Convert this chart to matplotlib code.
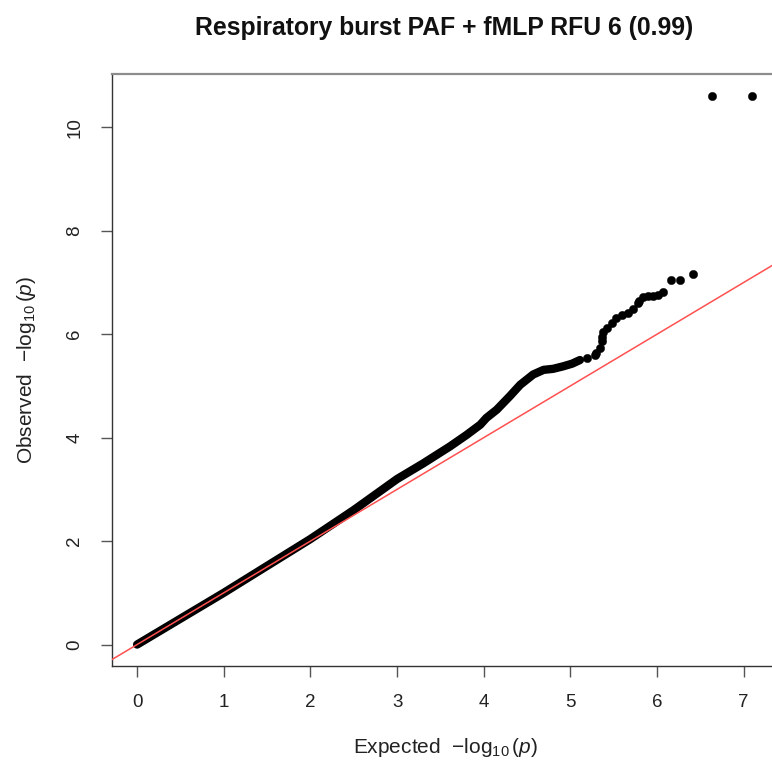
import matplotlib
matplotlib.use("Agg")
import matplotlib.pyplot as plt

plt.rcParams['font.family'] = ['Liberation Sans', 'DejaVu Sans']
plt.rcParams['mathtext.fontset'] = 'custom'
plt.rcParams['mathtext.rm'] = 'Liberation Sans'
plt.rcParams['mathtext.it'] = 'Liberation Sans:italic'

title = "Respiratory burst PAF + fMLP RFU 6 (0.99)"
x_label = r'Expected  $-\log_{10}(p)$'
y_label = r'Observed  $-\log_{10}(p)$'

# dense body of the QQ curve (expected, observed -log10 p)
body_expected = [0.0, 0.25, 0.5, 1.0, 1.5, 2.0, 2.5, 3.0, 3.3, 3.61, 3.8, 3.96,
                 4.03, 4.15, 4.30, 4.42, 4.57, 4.69, 4.80, 4.92, 5.02, 5.11]
body_observed = [0.0, 0.25, 0.5, 1.0, 1.52, 2.04, 2.6, 3.2, 3.5, 3.83, 4.05, 4.25,
                 4.38, 4.54, 4.80, 5.02, 5.22, 5.31, 5.33, 5.38, 5.43, 5.50]

# sparse tail points
tail_expected = [7.10, 6.63, 6.41, 6.26, 6.16, 6.07, 6.01, 5.95, 5.89, 5.84, 5.79,
                 5.78, 5.72, 5.66, 5.59, 5.53, 5.48, 5.42, 5.38, 5.37, 5.36, 5.34,
                 5.30, 5.28, 5.19]
tail_observed = [10.61, 10.61, 7.16, 7.04, 7.04, 6.81, 6.76, 6.74, 6.73, 6.72, 6.65,
                 6.61, 6.49, 6.41, 6.38, 6.31, 6.22, 6.12, 6.05, 5.95, 5.86, 5.73,
                 5.64, 5.60, 5.54]

x_ticks = [0, 1, 2, 3, 4, 5, 6, 7]
y_ticks = [0, 2, 4, 6, 8, 10]

fig = plt.figure(figsize=(7.72, 7.61), dpi=100)
ax = fig.add_axes([0.1457, 0.1242, 0.8608, 0.7786])

ax.plot(body_expected, body_observed, color='black', lw=6.0,
        solid_capstyle='round', solid_joinstyle='round', zorder=2)
ax.plot(tail_expected, tail_observed, 'o', color='black', ms=6.0, mec='black',
        mew=0.3, zorder=2)

xlim = (-0.284, 7.384)
ylim = (-0.424, 11.03)
ax.plot([-1, 9], [-1, 9], color='#ff5050', lw=1.1, zorder=3)
ax.set_xlim(*xlim)
ax.set_ylim(*ylim)

ax.set_xticks(x_ticks)
ax.set_yticks(y_ticks)
ax.set_xticklabels([str(t) for t in x_ticks])
ax.set_yticklabels([str(t) for t in y_ticks], rotation=90, va='center')
ax.tick_params(axis='both', direction='out', length=8, width=1, color='#555555',
               labelsize=13.5, labelcolor='#222222')
ax.tick_params(axis='x', pad=12)
ax.tick_params(axis='y', pad=13)

for s in ['left', 'bottom']:
    ax.spines[s].set_color('#333333')
    ax.spines[s].set_linewidth(1.0)
ax.spines['top'].set_color('#8c8c8c')
ax.spines['top'].set_linewidth(1.6)
ax.spines['right'].set_color('#8c8c8c')

fig.text(0.5765, 0.0105, x_label, ha='center', va='baseline', fontsize=15,
         color='#222222')
fig.text(0.0345, 0.5138, y_label, ha='center', va='center', rotation=90,
         fontsize=15, color='#222222')
fig.text(0.575, 0.963, title, ha='center', va='center', fontsize=17.8,
         fontweight='bold', color='#111111')

fig.savefig('out.png', dpi=100)
